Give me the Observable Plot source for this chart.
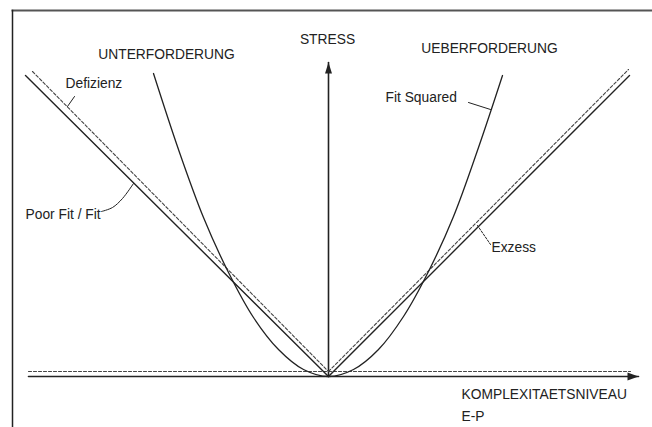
<!DOCTYPE html>
<html>
<head>
<meta charset="utf-8">
<script src="https://cdn.jsdelivr.net/npm/d3@7"></script>
<script src="https://cdn.jsdelivr.net/npm/@observablehq/plot@0.6"></script>
<style>
  html, body { margin: 0; padding: 0; background: #fff; }
  #chart svg { display: block; background: #fff; }
</style>
</head>
<body>
<div id="chart"></div>
<script>
// ---- data (origin = lowest complexity/stress point) ----
// Poor Fit / Fit : solid V
const fitX = [-3.03, 0, 3.01];
const fitY = [3.01, 0, 3.01];
// Defizienz : dashed, left branch
const defizienzX = [-2.96, 0];
const defizienzY = [3.05, 0.05];
// Exzess : dashed, right branch
const exzessX = [0, 3.00];
const exzessY = [0.05, 3.07];
// Fit Squared : parabola
const squaredX = [-1.75, -1.5, -1.25, -1.0, -0.75, -0.5, -0.25, 0, 0.25, 0.5, 0.75, 1.0, 1.25, 1.5, 1.74];
const squaredY = [3.03, 2.27, 1.59, 1.04, 0.59, 0.27, 0.07, 0, 0.07, 0.27, 0.6, 1.05, 1.6, 2.29, 3.01];
// dashed baseline
const baseX = [-3.0, 3.02];
const baseY = [0.05, 0.05];
// axes
const axisXRange = [-3.0, 3.10];   // KOMPLEXITAETSNIVEAU axis (tip at right)
const axisYRange = [0, 3.14];      // STRESS axis (tip at top)

// labels
const labelText = ["STRESS", "UNTERFORDERUNG", "UEBERFORDERUNG", "Defizienz", "Poor Fit / Fit", "Fit Squared", "Exzess", "KOMPLEXITAETSNIVEAU", "E-P"];
const labelX    = [-0.01, -1.62, 1.61, -2.63, -3.03, 0.57, 1.63, 1.33, 1.33];
const labelY    = [3.365, 3.22, 3.28, 2.925, 1.62, 2.79, 1.29, -0.185, -0.40];
const labelAnchor = ["middle", "middle", "middle", "start", "start", "start", "start", "start", "start"];

// leader lines
const leaderDefizienzX = [-2.54, -2.61];
const leaderDefizienzY = [2.80, 2.70];
const leaderFitX = [-2.27, -2.16, -2.06, -1.95];
const leaderFitY = [1.65, 1.69, 1.78, 1.93];
const leaderSquaredX = [1.40, 1.62];
const leaderSquaredY = [2.74, 2.67];
const leaderExzessX = [1.49, 1.62];
const leaderExzessY = [1.51, 1.32];

// ---- build tables ----
const pts = (xs, ys) => xs.map((x, i) => ({x, y: ys[i]}));
const labels = labelText.map((t, i) => ({t, x: labelX[i], y: labelY[i], a: labelAnchor[i]}));

const ink = "#222";
const font = "Liberation Sans, Arial, sans-serif";
const textOpts = (anchor) => ({
  x: "x", y: "y", text: "t", textAnchor: anchor,
  fontFamily: font, fontSize: 13.8, fill: "#222"
});

const chart = Plot.plot({
  width: 652,
  height: 427,
  marginTop: 10,
  marginLeft: 12,
  marginRight: 0,
  marginBottom: 0,
  style: {background: "#fff", overflow: "visible"},
  x: {domain: [-3.28, 3.24], range: [0, 652], axis: null},
  y: {domain: [-0.51, 3.76], range: [427, 0], axis: null},
  marks: [
    // frame edges
    Plot.frame({anchor: "top", stroke: "#555", strokeWidth: 2}),
    Plot.frame({anchor: "left", stroke: "#222", strokeWidth: 1.5}),
    // dashed baseline
    Plot.line(pts(baseX, baseY), {x: "x", y: "y", stroke: "#444", strokeWidth: 1.1, strokeDasharray: "3,2"}),
    // axes
    Plot.line(pts(axisXRange, [0, 0]), {x: "x", y: "y", stroke: ink, strokeWidth: 1.6}),
    Plot.line(pts([0, 0], axisYRange), {x: "x", y: "y", stroke: ink, strokeWidth: 1.6}),
    Plot.vector([{x: axisXRange[1], y: 0}], {x: "x", y: "y", length: 11, rotate: 90, shape: "spike", r: 4, anchor: "end", fill: ink, stroke: "none"}),
    Plot.vector([{x: 0, y: axisYRange[1]}], {x: "x", y: "y", length: 11, rotate: 0, shape: "spike", r: 3.5, anchor: "end", fill: ink, stroke: "none"}),
    // dashed Defizienz / Exzess
    Plot.line(pts(defizienzX, defizienzY), {x: "x", y: "y", stroke: "#444", strokeWidth: 1.1, strokeDasharray: "3,2"}),
    Plot.line(pts(exzessX, exzessY), {x: "x", y: "y", stroke: "#444", strokeWidth: 1.1, strokeDasharray: "3,2"}),
    // solid V
    Plot.line(pts(fitX, fitY), {x: "x", y: "y", stroke: ink, strokeWidth: 1.4}),
    // parabola
    Plot.line(pts(squaredX, squaredY), {x: "x", y: "y", stroke: ink, strokeWidth: 1.3, curve: "catmull-rom"}),
    // leaders
    Plot.line(pts(leaderDefizienzX, leaderDefizienzY), {x: "x", y: "y", stroke: ink, strokeWidth: 1}),
    Plot.line(pts(leaderFitX, leaderFitY), {x: "x", y: "y", stroke: ink, strokeWidth: 1, curve: "catmull-rom"}),
    Plot.line(pts(leaderSquaredX, leaderSquaredY), {x: "x", y: "y", stroke: ink, strokeWidth: 1}),
    Plot.line(pts(leaderExzessX, leaderExzessY), {x: "x", y: "y", stroke: ink, strokeWidth: 1, strokeDasharray: "2,1.5"}),
    // labels
    Plot.text(labels.filter(d => d.a === "middle"), textOpts("middle")),
    Plot.text(labels.filter(d => d.a === "start"), textOpts("start"))
  ]
});

document.getElementById("chart").appendChild(chart);
</script>
</body>
</html>
